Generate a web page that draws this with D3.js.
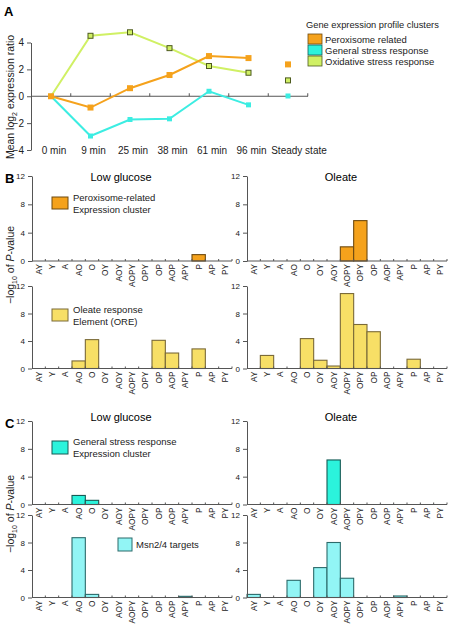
<!DOCTYPE html>
<html><head><meta charset="utf-8">
<script src="https://cdn.jsdelivr.net/npm/d3@7"></script>
<style>body{margin:0;background:#fff}svg{display:block;font-family:"Liberation Sans",Arial,sans-serif}</style>
</head><body><svg id="c" width="449" height="624"></svg>
<script>
// ---------- DATA ----------
const timeLabels = ["0 min","9 min","25 min","38 min","61 min","96 min","Steady state"];
const peroxisome = [0, -0.84, 0.6, 1.58, 2.99, 2.84];
const peroxisomeSteady = 2.37;
const generalStress = [0, -2.96, -1.73, -1.68, 0.37, -0.64];
const generalStressSteady = 0.02;
const oxidative = [0, 4.5, 4.76, 3.58, 2.25, 1.75];
const oxidativeSteady = 1.18;
const yTicksA = [-4, -2, 0, 2, 4];
const legendA = ["Peroxisome related","General stress response","Oxidative stress response"];

const categories = ["AY","Y","A","AO","O","OY","AOY","AOPY","OPY","OP","AOP","APY","P","AP","PY"];
const yTicksP = [0, 4, 8, 12];
const bLowPerox = [0,0,0,0,0,0,0,0,0,0,0,0,0.9,0,0];
const bOlePerox = [0,0,0,0,0,0,0,2.0,5.7,0,0,0,0,0,0];
const bLowORE   = [0,0,0,1.1,4.2,0,0,0,0,4.1,2.25,0,2.85,0,0];
const bOleORE   = [0,1.9,0,0,4.35,1.2,0.36,10.9,6.4,5.35,0,0,1.35,0,0];
const cLowGen   = [0,0,0,1.3,0.6,0,0,0,0,0,0,0,0,0,0];
const cOleGen   = [0,0,0,0,0,0,6.4,0,0,0,0,0,0,0,0];
const cLowMsn   = [0,0,0,8.7,0.45,0,0,0,0,0,0,0.17,0,0,0];
const cOleMsn   = [0.45,0,0,2.5,0,4.35,8.0,2.8,0,0,0,0.22,0,0,0];

// ---------- STYLE ----------
const C = {
  orange:"#F5A21C", orangeS:"#6e4a10",
  cyan:"#3CEDE2", yg:"#D0F064", ygS:"#4d5a1e",
  ore:"#F7DF66", oreS:"#7a6a38",
  gen:"#2BF3DC", genS:"#175b55",
  msn:"#92F5F5", msnS:"#2d6b6b",
  axis:"#555"
};
const svg = d3.select("#c");

// ---------- PANEL A ----------
const xA = d3.scalePoint().domain(d3.range(7)).range([51, 288]);
const yA = d3.scaleLinear().domain([-4, 4]).range([150, 42.5]);
const gA = svg.append("g");
gA.append("text").attr("x",4).attr("y",16).attr("font-weight","bold").attr("font-size",13).text("A");
const axA = gA.append("g").attr("transform","translate(31,0)")
  .call(d3.axisLeft(yA).tickValues(yTicksA).tickSize(4).tickSizeOuter(0));
axA.select(".domain").attr("stroke",C.axis);
axA.selectAll(".tick line").attr("stroke",C.axis);
axA.selectAll("text").attr("font-size",10).attr("fill","#222").attr("font-family","Liberation Sans, Arial").text(d=>d<0?"\u2212"+(-d):d);
gA.append("line").attr("x1",31).attr("x2",308).attr("y1",yA(0)).attr("y2",yA(0)).attr("stroke",C.axis);
const step = xA.step();
gA.selectAll("line.zt").data(d3.range(7)).join("line").attr("class","zt")
  .attr("x1",d=>xA(d)+step/2).attr("x2",d=>xA(d)+step/2)
  .attr("y1",yA(0)).attr("y2",yA(0)-3).attr("stroke",C.axis);
gA.selectAll("text.tl").data(timeLabels).join("text").attr("class","tl")
  .attr("x",(d,i)=>xA(i)+(i===6?11:3)).attr("y",153.5).attr("text-anchor","middle")
  .attr("font-size",10).attr("fill","#222").text(d=>d);
gA.append("text").attr("transform","translate(14,97) rotate(-90)").attr("text-anchor","middle")
  .attr("font-size",10.5).attr("fill","#222")
  .html('Mean log<tspan font-size="7" dy="3">2</tspan><tspan dy="-3"> expression ratio</tspan>');
const line = d3.line().x((d,i)=>xA(i)).y(d=>yA(d));
gA.append("path").attr("d",line(generalStress)).attr("fill","none").attr("stroke",C.cyan).attr("stroke-width",2);
gA.append("path").attr("d",line(oxidative)).attr("fill","none").attr("stroke",C.yg).attr("stroke-width",2);
gA.append("path").attr("d",line(peroxisome)).attr("fill","none").attr("stroke",C.orange).attr("stroke-width",2);
gA.selectAll("rect.mc").data(generalStress.concat([generalStressSteady])).join("rect").attr("class","mc")
  .attr("x",(d,i)=>xA(i)-2.5).attr("y",d=>yA(d)-2.5).attr("width",5).attr("height",5).attr("fill",C.cyan);
gA.selectAll("rect.mo").data(peroxisome.concat([peroxisomeSteady])).join("rect").attr("class","mo")
  .attr("x",(d,i)=>xA(i)-3).attr("y",d=>yA(d)-3).attr("width",6).attr("height",6).attr("fill",C.orange);
gA.selectAll("rect.my").data(oxidative.concat([oxidativeSteady])).join("rect").attr("class","my")
  .attr("x",(d,i)=>xA(i)-2.5).attr("y",d=>yA(d)-2.5).attr("width",5).attr("height",5)
  .attr("fill",C.yg).attr("stroke",C.ygS).attr("stroke-width",1)
  .attr("display",(d,i)=>i===0?"none":null);
gA.append("text").attr("x",306).attr("y",28).attr("font-size",9.3).attr("fill","#222").text("Gene expression profile clusters");
const legCols = [[C.orange,C.orangeS],[C.gen,C.genS],[C.yg,C.ygS]];
legendA.forEach((t,i)=>{
  gA.append("rect").attr("x",308).attr("y",34+i*11).attr("width",14).attr("height",10)
    .attr("fill",legCols[i][0]).attr("stroke",legCols[i][1]).attr("stroke-width",0.8);
  gA.append("text").attr("x",325).attr("y",42.5+i*11).attr("font-size",9.5).attr("fill","#222").text(t);
});

// ---------- BAR PANELS ----------
function barPanel(x0, yTop, yZero, values, fill, stroke) {
  const g = svg.append("g");
  const x = d3.scaleBand().domain(categories).range([x0, x0+200]).paddingInner(0).paddingOuter(0);
  const y = d3.scaleLinear().domain([0, 12]).range([yZero, yTop]);
  g.selectAll("rect").data(categories.map((c,i)=>({c, v:values[i]})).filter(d=>d.v>0)).join("rect")
    .attr("x",d=>x(d.c)).attr("width",x.bandwidth()).attr("y",d=>y(d.v)).attr("height",d=>y(0)-y(d.v))
    .attr("fill",fill).attr("stroke",stroke).attr("stroke-width",1.1);
  const ax = g.append("g").attr("transform",`translate(${x0},0)`)
    .call(d3.axisLeft(y).tickValues(yTicksP).tickSize(4).tickSizeOuter(0).tickPadding(3));
  ax.select(".domain").attr("stroke",C.axis);
  ax.selectAll(".tick line").attr("stroke",C.axis);
  ax.selectAll("text").attr("font-size",8).attr("fill","#222").attr("font-family","Liberation Sans, Arial");
  g.append("line").attr("x1",x0).attr("x2",x0+200).attr("y1",yZero).attr("y2",yZero).attr("stroke",C.axis);
  g.selectAll("line.bt").data(categories).join("line").attr("class","bt")
    .attr("x1",d=>x(d)+x.bandwidth()).attr("x2",d=>x(d)+x.bandwidth())
    .attr("y1",yZero).attr("y2",yZero-2).attr("stroke",C.axis);
  g.selectAll("text.cl").data(categories).join("text").attr("class","cl")
    .attr("transform",d=>`translate(${x(d)+x.bandwidth()/2+3},${yZero+3}) rotate(-90)`)
    .attr("text-anchor","end").attr("font-size",8.3).attr("fill","#222").text(d=>d);
  return g;
}
function legend2(x, y, w, h, fill, stroke, lines) {
  svg.append("rect").attr("x",x).attr("y",y).attr("width",w).attr("height",h).attr("fill",fill).attr("stroke",stroke).attr("stroke-width",1);
  lines.forEach((t,i)=>svg.append("text").attr("x",x+w+5).attr("y",y+4+i*11.5).attr("font-size",9.5).attr("fill","#222").text(t));
}
function yLabel(cy) {
  svg.append("text").attr("transform",`translate(14,${cy}) rotate(-90)`).attr("text-anchor","middle")
    .attr("font-size",10.5).attr("fill","#222")
    .html('\u2212log<tspan font-size="7" dy="3">10</tspan><tspan dy="-3"> of </tspan><tspan font-style="italic">P</tspan>-value');
}

// B
svg.append("text").attr("x",5).attr("y",183).attr("font-weight","bold").attr("font-size",13).text("B");
svg.append("text").attr("x",121).attr("y",181).attr("text-anchor","middle").attr("font-size",11).text("Low glucose");
svg.append("text").attr("x",341).attr("y",181).attr("text-anchor","middle").attr("font-size",11).text("Oleate");
barPanel(32, 176, 261, bLowPerox, C.orange, C.orangeS);
barPanel(247, 176, 261, bOlePerox, C.orange, C.orangeS);
barPanel(32, 286, 368.5, bLowORE, C.ore, C.oreS);
barPanel(247, 286, 368.5, bOleORE, C.ore, C.oreS);
legend2(52, 197, 16, 12, C.orange, C.orangeS, ["Peroxisome-related","Expression cluster"]);
legend2(52, 309, 16, 12, C.ore, C.oreS, ["Oleate response","Element (ORE)"]);
yLabel(265);

// C
svg.append("text").attr("x",5).attr("y",428).attr("font-weight","bold").attr("font-size",13).text("C");
svg.append("text").attr("x",121).attr("y",421).attr("text-anchor","middle").attr("font-size",11).text("Low glucose");
svg.append("text").attr("x",341).attr("y",421).attr("text-anchor","middle").attr("font-size",11).text("Oleate");
barPanel(32, 421, 504.5, cLowGen, C.gen, C.genS);
barPanel(247, 421, 504.5, cOleGen, C.gen, C.genS);
barPanel(32, 515, 597.5, cLowMsn, C.msn, C.msnS);
barPanel(247, 515, 597.5, cOleMsn, C.msn, C.msnS);
legend2(52, 441, 16, 13, C.gen, C.genS, ["General stress response","Expression cluster"]);
svg.append("rect").attr("x",118).attr("y",538).attr("width",14).attr("height",13).attr("fill",C.msn).attr("stroke",C.msnS);
svg.append("text").attr("x",136).attr("y",548).attr("font-size",9.5).attr("fill","#222").text("Msn2/4 targets");
yLabel(514);
</script></body></html>
